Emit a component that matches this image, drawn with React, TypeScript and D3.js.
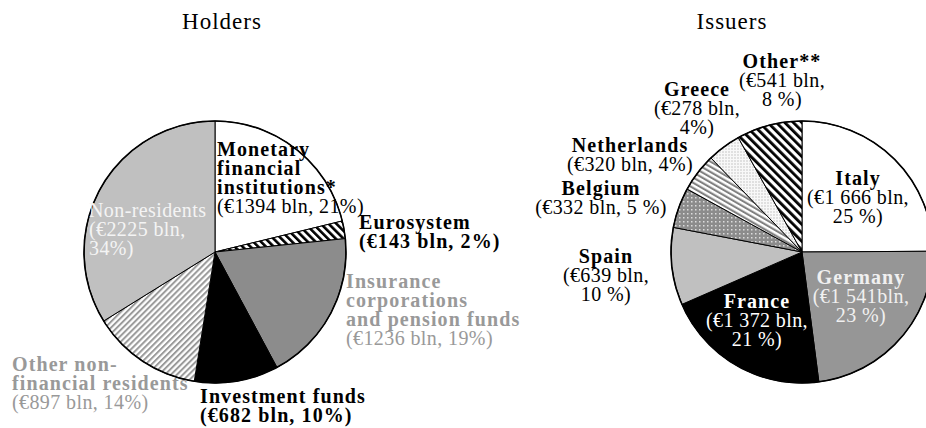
import React from 'react';
import * as d3 from 'd3';

// Holders of euro area government debt
const holderNames = ['Monetary financial institutions', 'Eurosystem', 'Insurance corporations and pension funds', 'Investment funds', 'Other non-financial residents', 'Non-residents'];
const holderValues = [1394, 143, 1236, 682, 897, 2225];
const holderFills = ['#ffffff', 'url(#stripeBlack)', '#8c8c8c', '#000000', 'url(#stripeGrey)', '#c0c0c0'];
const holderLabels = [
  ['Monetary', 'financial', 'institutions*', '(€1394 bln, 21%)'],
  ['Eurosystem', '(€143 bln, 2%)'],
  ['Insurance', 'corporations', 'and pension funds', '(€1236 bln, 19%)'],
  ['Investment funds', '(€682 bln, 10%)'],
  ['Other non-', 'financial residents', '(€897 bln, 14%)'],
  ['Non-residents', '(€2225 bln,', '34%)'],
];

// Issuers
const issuerNames = ['Italy', 'Germany', 'France', 'Spain', 'Belgium', 'Netherlands', 'Greece', 'Other**'];
const issuerValues = [1666, 1541, 1372, 639, 332, 320, 278, 541];
const issuerFills = ['#ffffff', '#969696', '#000000', '#c0c0c0', 'url(#dotsGrey)', 'url(#stripeMid)', 'url(#gridLight)', 'url(#stripeBlack2)'];
const issuerLabels = [
  ['Italy', '(€1 666 bln,', '25 %)'],
  ['Germany', '(€1 541bln,', '23 %)'],
  ['France', '(€1 372 bln,', '21 %)'],
  ['Spain', '(€639 bln,', '10 %)'],
  ['Belgium', '(€332 bln, 5 %)'],
  ['Netherlands', '(€320 bln, 4%)'],
  ['Greece', '(€278 bln,', '4%)'],
  ['Other**', '(€541 bln,', '8 %)'],
];

// label layout: x, first baseline, anchor, colour, number of bold lines
const holderLayout = [
  { x: 217, y: 156, anchor: 'start', color: '#000', bold: 3 },
  { x: 359, y: 229, anchor: 'start', color: '#000', bold: 2 },
  { x: 346, y: 288, anchor: 'start', color: '#999', bold: 3 },
  { x: 200, y: 403, anchor: 'start', color: '#000', bold: 2 },
  { x: 12, y: 371, anchor: 'start', color: '#999', bold: 2 },
  { x: 89, y: 217, anchor: 'start', color: '#f4f4f4', bold: 0 },
];
const issuerLayout = [
  { x: 858, y: 185, anchor: 'middle', color: '#000', bold: 1 },
  { x: 861, y: 284, anchor: 'middle', color: '#f0f0f0', bold: 1 },
  { x: 757, y: 308, anchor: 'middle', color: '#fff', bold: 1 },
  { x: 606, y: 263, anchor: 'middle', color: '#000', bold: 1 },
  { x: 601, y: 195, anchor: 'middle', color: '#000', bold: 1 },
  { x: 630, y: 152, anchor: 'middle', color: '#000', bold: 1 },
  { x: 697, y: 96, anchor: 'middle', color: '#000', bold: 1 },
  { x: 782, y: 68, anchor: 'middle', color: '#000', bold: 1 },
];

const FONT = '"Liberation Serif", "Times New Roman", serif';
const LINE = 19;
const R = 131;

function Pie({ cx, cy, values, fills, names }: { cx: number; cy: number; values: number[]; fills: string[]; names: string[] }) {
  const arcs = d3.pie<number>().sort(null)(values);
  const arc = d3.arc<d3.PieArcDatum<number>>().innerRadius(0).outerRadius(R);
  return (
    <g transform={`translate(${cx},${cy})`}>
      {arcs.map((a, i) => (
        <path key={names[i]} d={arc(a) || ''} fill={fills[i]} stroke="#000" strokeWidth={1} strokeLinejoin="round" />
      ))}
      <circle r={R} fill="none" stroke="#000" strokeWidth={1.6} />
    </g>
  );
}

function Labels({ labels, layout }: { labels: string[][]; layout: any[] }) {
  return (
    <g fontFamily={FONT} fontSize={20}>
      {labels.map((lines, i) => {
        const l = layout[i];
        return (
          <text key={i} x={l.x} y={l.y} textAnchor={l.anchor} fill={l.color}>
            {lines.map((t, j) => (
              <tspan key={j} x={l.x} dy={j === 0 ? 0 : LINE}
                fontWeight={j < l.bold ? 'bold' : 'normal'}
                letterSpacing={j < l.bold ? 1.1 : 0.4}>
                {t}
              </tspan>
            ))}
          </text>
        );
      })}
    </g>
  );
}

export default function App() {
  return (
    <svg width={926} height={428} style={{ position: 'absolute', left: 0, top: 0, background: '#fff' }}>
      <defs>
        <pattern id="stripeBlack" width={5.5} height={5.5} patternUnits="userSpaceOnUse" patternTransform="rotate(-45)">
          <rect width={5.5} height={5.5} fill="#fff" />
          <rect width={2.6} height={5.5} fill="#000" />
        </pattern>
        <pattern id="stripeBlack2" width={6} height={6} patternUnits="userSpaceOnUse" patternTransform="rotate(-45)">
          <rect width={6} height={6} fill="#fff" />
          <rect width={2.8} height={6} fill="#000" />
        </pattern>
        <pattern id="stripeGrey" width={4.2} height={4.2} patternUnits="userSpaceOnUse" patternTransform="rotate(45)">
          <rect width={4.2} height={4.2} fill="#fff" />
          <rect width={2} height={4.2} fill="#9a9a9a" />
        </pattern>
        <pattern id="stripeMid" width={4.5} height={4.5} patternUnits="userSpaceOnUse" patternTransform="rotate(-60)">
          <rect width={4.5} height={4.5} fill="#fff" />
          <rect width={2.1} height={4.5} fill="#808080" />
        </pattern>
        <pattern id="dotsGrey" width={4} height={4} patternUnits="userSpaceOnUse">
          <rect width={4} height={4} fill="#8c8c8c" />
          <rect x={1} y={1} width={1.5} height={1.5} fill="#dcdcdc" />
        </pattern>
        <pattern id="gridLight" width={3} height={3} patternUnits="userSpaceOnUse">
          <rect width={3} height={3} fill="#e0e0e0" />
          <rect width={3} height={1} fill="#f8f8f8" />
          <rect width={1} height={3} fill="#f8f8f8" />
        </pattern>
      </defs>

      <g fontFamily={FONT} fontSize={23} letterSpacing={1} textAnchor="middle" fill="#000">
        <text x={222} y={29}>Holders</text>
        <text x={732} y={29}>Issuers</text>
      </g>

      <Pie cx={215} cy={252} values={holderValues} fills={holderFills} names={holderNames} />
      <Pie cx={802} cy={252} values={issuerValues} fills={issuerFills} names={issuerNames} />

      <Labels labels={holderLabels} layout={holderLayout} />
      <Labels labels={issuerLabels} layout={issuerLayout} />
    </svg>
  );
}
